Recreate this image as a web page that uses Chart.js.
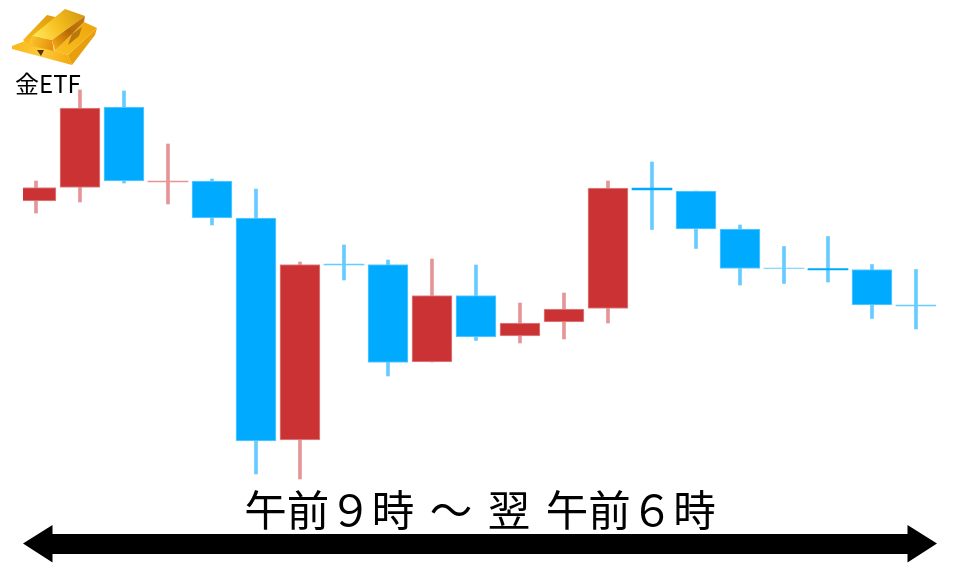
<!DOCTYPE html>
<html lang="ja">
<head>
<meta charset="utf-8">
<style>html,body{margin:0;padding:0;background:#fff}canvas{display:block}</style>
<script src="https://cdn.jsdelivr.net/npm/chart.js@4"></script>
</head>
<body>
<canvas id="c" width="960" height="567"></canvas>
<script>
const opens  = [366,379.5,460,385,386,349,127,303,302.5,205,271.5,231,245,258.5,379,376,338,299,298.5,297.5,262];
const closes = [379.5,459,386,386,349,126,302.5,302,204.5,271.5,230,244,258,379,377,338,298.5,298.5,297,262,261];
const highs  = [386,477,476,423,388,378,305,322,307,308,302,264,274,386,405,376,342,320.5,330.5,302.5,297.5];
const lows   = [354,365,384,363,342,93,88,287,191,205,226.5,224,228,244,337.5,318.5,282,283.5,285,248.5,238];
const assetLabel = '金ETF';
const periodLabel = '午前９時 ～ 翌 午前６時';

const RED='#cb3234', BLUE='#00aaff', RED_W='#e59598', BLUE_W='#66ccff';
const rising = i => closes[i] > opens[i];
const bodySize = i => Math.abs(closes[i]-opens[i]);

const decor = {
  id:'decor',
  afterDraw(chart){
    const c = chart.ctx;
    c.save();
    // arrow
    c.fillStyle='#000';
    c.beginPath();
    c.moveTo(23,543.5);c.lineTo(52.5,525);c.lineTo(52.5,534);c.lineTo(907.5,534);c.lineTo(907.5,525);
    c.lineTo(937,543.5);c.lineTo(907.5,562.5);c.lineTo(907.5,554);c.lineTo(52.5,554);c.lineTo(52.5,562.5);
    c.closePath();c.fill();
    // period text
    c.fillStyle='#000';
    c.textAlign='center';c.textBaseline='middle';
    c.font='42.5px "Noto Sans CJK JP"';
    c.wordSpacing='6px';
    c.fillText(periodLabel,480,510);
    c.wordSpacing='0px';
    // gold icon
    const poly=(pts,fill)=>{c.fillStyle=fill;c.beginPath();pts.forEach((p,i)=>i?c.lineTo(p[0],p[1]):c.moveTo(p[0],p[1]));c.closePath();c.fill();};
    const lin=(x0,y0,x1,y1,...s)=>{const g=c.createLinearGradient(x0,y0,x1,y1);s.forEach((v,i)=>g.addColorStop(i/(s.length-1),v));return g;};
    // lowest layer: front and right faces
    poly([[12,46],[25,41],[68,55],[72,65],[12,49]],lin(12,46,72,62,'#f9b71c','#fccb3a','#f3a70e'));
    poly([[68,55],[97,28],[95,35],[72,65]],'#e99f0b');
    // back-left bar
    poly([[47,15],[55,17],[56,26],[30,46],[23,40]],lin(25,40,55,15,'#f6b81a','#dc9c10'));
    // right lower bar
    poly([[84,22],[97,28],[68,55],[55,51]],lin(60,52,95,28,'#f9bd1e','#eea70e'));
    poly([[72,34],[82,27],[79,36],[68,45]],'#b9780c');
    // big top bar
    poly([[32,36],[65,9],[85,16],[52,40]],lin(35,38,80,12,'#ffe75a','#f6bf20','#d79a12'));
    poly([[52,40],[85,16],[84,22],[55,51]],lin(53,45,84,18,'#f4a510','#b76a05','#c47a08'));
    poly([[32,36],[52,40],[54,51],[28,45]],lin(30,40,54,46,'#fbc42c','#e48d08'));
    poly([[37,50],[44,50],[41,56]],'#5c3304');
    // asset text
    c.fillStyle='#000';
    c.textAlign='left';c.textBaseline='middle';
    c.font='24px "Noto Sans CJK JP"';
    c.fillText(assetLabel,15,84);
    c.restore();
  }
};

new Chart(document.getElementById('c'),{
  type:'bar',
  data:{datasets:[
    {label:'body',data:opens.map((o,i)=>({x:i,y:[o,closes[i]]})),
     barThickness:40,grouped:false,borderSkipped:false,
     backgroundColor:ctx=>{
       const i=ctx.dataIndex, thin=bodySize(i)<1.5;
       return rising(i)?(thin?RED_W:RED):(thin?BLUE_W:BLUE);
     },
     borderColor:ctx=>rising(ctx.dataIndex)?'#e08a8c':'#66ccff',
     borderWidth:ctx=>bodySize(ctx.dataIndex)<3?0:1},
    {label:'wick',data:highs.map((h,i)=>({x:i,y:[lows[i],h]})),
     barThickness:3,grouped:false,borderWidth:0,
     backgroundColor:ctx=>rising(ctx.dataIndex)?RED_W:BLUE_W}
  ]},
  plugins:[decor],
  options:{
    responsive:false,animation:false,
    layout:{padding:{left:23,right:24,top:0,bottom:0}},
    plugins:{legend:{display:false},tooltip:{enabled:false}},
    scales:{
      x:{type:'linear',offset:false,display:false,min:-0.295,max:20.455},
      y:{display:false,min:0,max:567}
    }
  }
});
</script>
</body>
</html>
